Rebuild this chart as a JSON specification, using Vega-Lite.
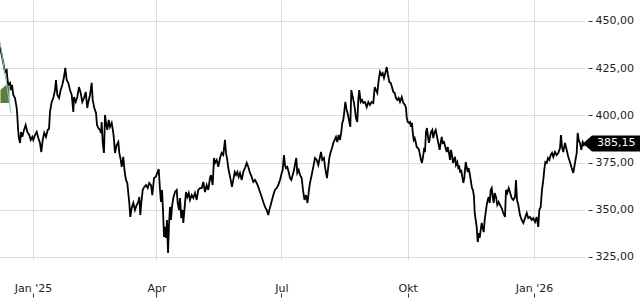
{
  "$schema": "https://vega.github.io/schema/vega-lite/v6.json",
  "width": 585,
  "height": 260,
  "padding": {"left": 0, "top": 0, "right": 55, "bottom": 40},
  "autosize": {"type": "none"},
  "config": {
    "view": {"stroke": null},
    "axis": {"labelFont": "DejaVu Sans", "labelFontSize": 11, "labelColor": "#222222", "gridColor": "#dcdcdc", "gridWidth": 1, "tickColor": "#333333", "domain": false}
  },
  "datasets": {
    "price": [
      {"t":"2024-12-08T00:00","v":436.4},{"t":"2024-12-09T06:00","v":432.0},{"t":"2024-12-10T10:00","v":427.7},{"t":"2024-12-11T15:00","v":423.0},{"t":"2024-12-12T21:00","v":424.0},{"t":"2024-12-13T08:00","v":419.8},{"t":"2024-12-14T01:00","v":416.1},{"t":"2024-12-15T07:00","v":417.2},{"t":"2024-12-16T00:00","v":413.4},{"t":"2024-12-16T18:00","v":416.1},{"t":"2024-12-17T17:00","v":410.8},{"t":"2024-12-18T22:00","v":409.2},{"t":"2024-12-20T04:00","v":403.9},{"t":"2024-12-20T14:00","v":400.2},{"t":"2024-12-21T03:00","v":393.3},{"t":"2024-12-21T15:00","v":388.6},{"t":"2024-12-22T14:00","v":385.4},{"t":"2024-12-23T07:00","v":391.2},{"t":"2024-12-24T06:00","v":388.6},{"t":"2024-12-25T12:00","v":392.3},{"t":"2024-12-26T17:00","v":394.9},{"t":"2024-12-27T21:00","v":391.2},{"t":"2024-12-29T08:00","v":389.6},{"t":"2024-12-30T09:00","v":387.0},{"t":"2024-12-31T13:00","v":388.6},
      {"t":"2025-01-01T06:00","v":387.0},{"t":"2025-01-02T12:00","v":389.6},{"t":"2025-01-03T18:00","v":391.2},{"t":"2025-01-04T22:00","v":388.0},{"t":"2025-01-06T03:00","v":385.4},{"t":"2025-01-07T02:00","v":380.6},{"t":"2025-01-08T03:00","v":387.0},{"t":"2025-01-09T06:00","v":390.7},{"t":"2025-01-10T12:00","v":388.6},{"t":"2025-01-11T18:00","v":392.3},{"t":"2025-01-12T17:00","v":392.8},{"t":"2025-01-13T10:00","v":401.8},{"t":"2025-01-14T16:00","v":407.1},{"t":"2025-01-15T20:00","v":409.2},{"t":"2025-01-17T02:00","v":413.4},{"t":"2025-01-17T19:00","v":418.7},{"t":"2025-01-18T18:00","v":410.8},{"t":"2025-01-20T00:00","v":409.2},{"t":"2025-01-21T05:00","v":413.4},{"t":"2025-01-22T09:00","v":416.1},{"t":"2025-01-23T15:00","v":420.3},{"t":"2025-01-24T14:00","v":425.1},{"t":"2025-01-25T14:00","v":418.7},{"t":"2025-01-26T18:00","v":417.2},{"t":"2025-01-28T00:00","v":413.4},{"t":"2025-01-29T06:00","v":410.8},{"t":"2025-01-30T10:00","v":401.8},{"t":"2025-01-30T22:00","v":409.7},
      {"t":"2025-02-01T04:00","v":407.1},{"t":"2025-02-02T08:00","v":409.7},{"t":"2025-02-03T13:00","v":415.0},{"t":"2025-02-04T19:00","v":411.9},{"t":"2025-02-05T23:00","v":407.1},{"t":"2025-02-07T05:00","v":409.2},{"t":"2025-02-08T11:00","v":412.4},{"t":"2025-02-09T14:00","v":403.9},{"t":"2025-02-10T08:00","v":407.1},{"t":"2025-02-11T14:00","v":410.8},{"t":"2025-02-12T19:00","v":417.2},{"t":"2025-02-13T13:00","v":408.2},{"t":"2025-02-14T17:00","v":403.9},{"t":"2025-02-15T23:00","v":401.3},{"t":"2025-02-16T16:00","v":394.9},{"t":"2025-02-17T15:00","v":393.3},{"t":"2025-02-18T21:00","v":392.3},
      {"t":"2025-02-19T14:00","v":390.7},{"t":"2025-02-20T02:00","v":396.5},{"t":"2025-02-20T20:00","v":385.4},{"t":"2025-02-21T18:00","v":380.1},{"t":"2025-02-22T12:00","v":400.2},{"t":"2025-02-23T06:00","v":396.0},{"t":"2025-02-24T04:00","v":392.3},{"t":"2025-02-25T05:00","v":397.6},{"t":"2025-02-26T03:00","v":393.9},{"t":"2025-02-27T09:00","v":396.0},{"t":"2025-02-28T13:00","v":390.7},
      {"t":"2025-03-01T01:00","v":387.0},{"t":"2025-03-01T19:00","v":380.1},{"t":"2025-03-03T00:00","v":384.3},{"t":"2025-03-04T05:00","v":385.9},{"t":"2025-03-04T22:00","v":380.1},{"t":"2025-03-05T23:00","v":376.4},{"t":"2025-03-06T16:00","v":372.7},{"t":"2025-03-07T20:00","v":378.0},{"t":"2025-03-08T20:00","v":370.0},{"t":"2025-03-09T19:00","v":365.8},{"t":"2025-03-10T18:00","v":364.2},{"t":"2025-03-11T11:00","v":358.9},{"t":"2025-03-12T05:00","v":353.6},{"t":"2025-03-12T22:00","v":346.2},{"t":"2025-03-13T23:00","v":350.9},{"t":"2025-03-15T03:00","v":353.6},{"t":"2025-03-16T08:00","v":349.9},{"t":"2025-03-17T14:00","v":352.5},{"t":"2025-03-18T18:00","v":354.1},{"t":"2025-03-19T12:00","v":356.8},{"t":"2025-03-20T05:00","v":347.2},{"t":"2025-03-20T23:00","v":353.6},{"t":"2025-03-21T23:00","v":360.5},{"t":"2025-03-23T03:00","v":362.1},{"t":"2025-03-24T09:00","v":363.1},{"t":"2025-03-25T15:00","v":361.5},{"t":"2025-03-26T18:00","v":364.2},{"t":"2025-03-28T00:00","v":363.1},{"t":"2025-03-28T23:00","v":357.8},{"t":"2025-03-30T05:00","v":366.8},{"t":"2025-03-31T10:00","v":367.4},
      {"t":"2025-04-01T14:00","v":369.5},{"t":"2025-04-02T15:00","v":371.6},{"t":"2025-04-03T14:00","v":360.5},{"t":"2025-04-04T07:00","v":354.1},{"t":"2025-04-05T01:00","v":360.5},{"t":"2025-04-05T18:00","v":349.9},{"t":"2025-04-06T12:00","v":335.6},{"t":"2025-04-07T05:00","v":340.9},{"t":"2025-04-07T23:00","v":335.1},{"t":"2025-04-08T16:00","v":344.6},{"t":"2025-04-09T10:00","v":327.1},{"t":"2025-04-10T03:00","v":341.9},{"t":"2025-04-10T20:00","v":351.5},{"t":"2025-04-11T14:00","v":344.6},{"t":"2025-04-12T07:00","v":351.5},{"t":"2025-04-13T06:00","v":356.2},{"t":"2025-04-14T12:00","v":359.4},{"t":"2025-04-15T18:00","v":360.5},{"t":"2025-04-16T11:00","v":353.6},{"t":"2025-04-17T10:00","v":349.9},{"t":"2025-04-18T03:00","v":356.2},{"t":"2025-04-19T02:00","v":345.6},{"t":"2025-04-20T03:00","v":349.9},{"t":"2025-04-20T13:00","v":343.0},{"t":"2025-04-21T13:00","v":351.5},{"t":"2025-04-22T12:00","v":359.4},{"t":"2025-04-23T11:00","v":356.8},{"t":"2025-04-24T12:00","v":358.9},{"t":"2025-04-25T10:00","v":355.2},{"t":"2025-04-26T16:00","v":357.8},{"t":"2025-04-27T20:00","v":356.2},{"t":"2025-04-29T02:00","v":358.9},{"t":"2025-04-30T07:00","v":355.2},
      {"t":"2025-05-01T11:00","v":360.5},{"t":"2025-05-02T17:00","v":361.5},{"t":"2025-05-03T23:00","v":361.5},{"t":"2025-05-05T03:00","v":364.7},{"t":"2025-05-06T08:00","v":359.4},{"t":"2025-05-07T14:00","v":363.1},{"t":"2025-05-08T18:00","v":360.5},{"t":"2025-05-10T00:00","v":366.8},{"t":"2025-05-10T17:00","v":368.4},{"t":"2025-05-11T23:00","v":363.1},{"t":"2025-05-12T22:00","v":377.4},{"t":"2025-05-13T15:00","v":374.8},{"t":"2025-05-14T21:00","v":376.4},{"t":"2025-05-16T01:00","v":372.7},{"t":"2025-05-17T07:00","v":377.4},{"t":"2025-05-18T12:00","v":380.1},{"t":"2025-05-19T16:00","v":379.0},{"t":"2025-05-20T22:00","v":387.0},{"t":"2025-05-21T16:00","v":380.1},{"t":"2025-05-22T14:00","v":376.4},{"t":"2025-05-23T08:00","v":372.1},{"t":"2025-05-24T01:00","v":369.5},{"t":"2025-05-25T02:00","v":365.8},{"t":"2025-05-26T00:00","v":362.1},{"t":"2025-05-26T23:00","v":365.8},{"t":"2025-05-28T00:00","v":370.0},{"t":"2025-05-28T23:00","v":368.4},{"t":"2025-05-29T21:00","v":370.0},{"t":"2025-05-30T22:00","v":367.4},{"t":"2025-05-31T20:00","v":369.5},
      {"t":"2025-06-02T02:00","v":365.8},{"t":"2025-06-03T06:00","v":370.0},{"t":"2025-06-04T12:00","v":372.1},{"t":"2025-06-05T18:00","v":374.8},{"t":"2025-06-06T22:00","v":372.7},{"t":"2025-06-08T03:00","v":369.5},{"t":"2025-06-09T09:00","v":367.4},{"t":"2025-06-10T13:00","v":364.7},{"t":"2025-06-11T19:00","v":365.8},{"t":"2025-06-13T00:00","v":364.2},{"t":"2025-06-14T04:00","v":362.1},{"t":"2025-06-15T10:00","v":359.4},{"t":"2025-06-16T16:00","v":356.8},{"t":"2025-06-17T20:00","v":354.1},{"t":"2025-06-19T02:00","v":351.5},{"t":"2025-06-20T07:00","v":349.9},{"t":"2025-06-21T11:00","v":347.2},{"t":"2025-06-22T05:00","v":349.9},{"t":"2025-06-23T05:00","v":352.5},{"t":"2025-06-24T04:00","v":355.2},{"t":"2025-06-25T03:00","v":357.8},{"t":"2025-06-26T08:00","v":360.5},{"t":"2025-06-27T14:00","v":361.5},{"t":"2025-06-28T18:00","v":363.1},{"t":"2025-06-30T00:00","v":365.8},
      {"t":"2025-07-01T06:00","v":369.5},{"t":"2025-07-01T23:00","v":371.1},{"t":"2025-07-02T22:00","v":379.0},{"t":"2025-07-03T15:00","v":373.7},{"t":"2025-07-04T09:00","v":372.1},{"t":"2025-07-05T07:00","v":372.7},{"t":"2025-07-06T08:00","v":370.0},{"t":"2025-07-07T07:00","v":366.8},{"t":"2025-07-08T06:00","v":365.8},{"t":"2025-07-09T06:00","v":368.4},{"t":"2025-07-10T05:00","v":371.1},{"t":"2025-07-11T03:00","v":374.8},{"t":"2025-07-11T21:00","v":377.4},{"t":"2025-07-12T14:00","v":369.5},{"t":"2025-07-13T15:00","v":371.1},{"t":"2025-07-14T14:00","v":368.4},{"t":"2025-07-15T19:00","v":366.8},{"t":"2025-07-16T18:00","v":360.5},{"t":"2025-07-17T20:00","v":355.2},{"t":"2025-07-18T23:00","v":357.8},{"t":"2025-07-20T01:00","v":353.6},{"t":"2025-07-21T03:00","v":360.5},{"t":"2025-07-21T20:00","v":364.2},{"t":"2025-07-23T02:00","v":368.4},{"t":"2025-07-24T06:00","v":372.7},{"t":"2025-07-25T12:00","v":377.4},{"t":"2025-07-26T18:00","v":376.4},{"t":"2025-07-27T22:00","v":373.7},{"t":"2025-07-29T03:00","v":378.0},{"t":"2025-07-29T21:00","v":380.6},{"t":"2025-07-30T19:00","v":376.4},
      {"t":"2025-08-01T01:00","v":377.4},{"t":"2025-08-01T19:00","v":372.7},{"t":"2025-08-02T12:00","v":369.5},{"t":"2025-08-03T06:00","v":366.8},{"t":"2025-08-04T04:00","v":372.7},{"t":"2025-08-04T22:00","v":377.4},{"t":"2025-08-05T22:00","v":380.6},{"t":"2025-08-06T21:00","v":382.7},{"t":"2025-08-07T20:00","v":385.4},{"t":"2025-08-08T20:00","v":387.0},{"t":"2025-08-09T19:00","v":388.6},{"t":"2025-08-10T18:00","v":385.9},{"t":"2025-08-11T18:00","v":389.6},{"t":"2025-08-12T17:00","v":387.0},{"t":"2025-08-13T16:00","v":391.2},{"t":"2025-08-14T09:00","v":396.0},{"t":"2025-08-15T03:00","v":397.6},{"t":"2025-08-15T20:00","v":401.8},{"t":"2025-08-16T14:00","v":407.1},{"t":"2025-08-17T14:00","v":402.9},{"t":"2025-08-18T13:00","v":400.2},{"t":"2025-08-19T12:00","v":396.5},{"t":"2025-08-20T05:00","v":393.9},{"t":"2025-08-20T23:00","v":413.4},{"t":"2025-08-21T23:00","v":409.7},{"t":"2025-08-22T22:00","v":406.6},{"t":"2025-08-23T15:00","v":402.9},{"t":"2025-08-24T09:00","v":398.6},{"t":"2025-08-25T07:00","v":396.5},{"t":"2025-08-26T01:00","v":408.2},{"t":"2025-08-26T18:00","v":413.4},{"t":"2025-08-27T19:00","v":407.1},{"t":"2025-08-28T18:00","v":408.2},{"t":"2025-08-29T16:00","v":406.6},{"t":"2025-08-30T22:00","v":407.1},
      {"t":"2025-09-01T04:00","v":404.4},{"t":"2025-09-02T08:00","v":407.1},{"t":"2025-09-03T13:00","v":405.5},{"t":"2025-09-04T19:00","v":407.1},{"t":"2025-09-05T23:00","v":406.6},{"t":"2025-09-07T00:00","v":415.0},{"t":"2025-09-07T22:00","v":413.4},{"t":"2025-09-08T21:00","v":411.9},{"t":"2025-09-09T22:00","v":418.7},{"t":"2025-09-10T20:00","v":423.0},{"t":"2025-09-11T19:00","v":421.4},{"t":"2025-09-12T19:00","v":422.4},{"t":"2025-09-13T18:00","v":419.8},{"t":"2025-09-14T17:00","v":422.4},{"t":"2025-09-15T18:00","v":425.6},{"t":"2025-09-16T16:00","v":421.4},{"t":"2025-09-17T15:00","v":417.7},{"t":"2025-09-18T15:00","v":417.2},{"t":"2025-09-19T14:00","v":415.0},{"t":"2025-09-20T13:00","v":412.4},{"t":"2025-09-21T13:00","v":411.9},{"t":"2025-09-22T12:00","v":409.2},{"t":"2025-09-23T11:00","v":408.2},{"t":"2025-09-24T11:00","v":409.2},{"t":"2025-09-25T10:00","v":407.1},{"t":"2025-09-26T16:00","v":409.7},{"t":"2025-09-27T20:00","v":406.6},{"t":"2025-09-29T01:00","v":405.5},{"t":"2025-09-29T19:00","v":403.9},{"t":"2025-09-30T07:00","v":399.1},
      {"t":"2025-10-01T01:00","v":396.5},{"t":"2025-10-01T23:00","v":396.0},{"t":"2025-10-02T17:00","v":396.5},{"t":"2025-10-03T10:00","v":393.9},{"t":"2025-10-04T04:00","v":396.0},{"t":"2025-10-04T16:00","v":391.2},{"t":"2025-10-05T10:00","v":387.0},{"t":"2025-10-06T03:00","v":388.0},{"t":"2025-10-06T21:00","v":385.9},{"t":"2025-10-07T14:00","v":383.3},{"t":"2025-10-08T13:00","v":382.7},{"t":"2025-10-09T06:00","v":381.7},{"t":"2025-10-10T00:00","v":379.0},{"t":"2025-10-10T17:00","v":376.4},{"t":"2025-10-11T11:00","v":374.8},{"t":"2025-10-12T04:00","v":378.0},{"t":"2025-10-12T22:00","v":381.7},{"t":"2025-10-13T15:00","v":380.6},{"t":"2025-10-14T09:00","v":391.2},{"t":"2025-10-15T02:00","v":393.3},{"t":"2025-10-15T20:00","v":388.6},{"t":"2025-10-16T13:00","v":385.4},{"t":"2025-10-17T07:00","v":388.6},{"t":"2025-10-18T00:00","v":391.2},{"t":"2025-10-18T23:00","v":392.3},{"t":"2025-10-19T16:00","v":388.0},{"t":"2025-10-20T10:00","v":390.7},{"t":"2025-10-21T10:00","v":392.3},{"t":"2025-10-22T04:00","v":389.6},{"t":"2025-10-22T21:00","v":387.0},{"t":"2025-10-23T15:00","v":384.3},{"t":"2025-10-24T08:00","v":381.7},{"t":"2025-10-25T02:00","v":385.4},{"t":"2025-10-25T19:00","v":388.6},{"t":"2025-10-26T13:00","v":385.4},{"t":"2025-10-27T12:00","v":385.9},{"t":"2025-10-28T10:00","v":383.3},{"t":"2025-10-29T11:00","v":380.6},{"t":"2025-10-30T04:00","v":383.3},{"t":"2025-10-31T03:00","v":380.1},{"t":"2025-10-31T20:00","v":376.4},
      {"t":"2025-11-01T14:00","v":381.7},{"t":"2025-11-02T07:00","v":379.0},{"t":"2025-11-03T01:00","v":374.8},{"t":"2025-11-03T18:00","v":376.4},{"t":"2025-11-04T12:00","v":378.0},{"t":"2025-11-05T05:00","v":373.7},{"t":"2025-11-06T04:00","v":375.3},{"t":"2025-11-06T22:00","v":372.1},{"t":"2025-11-07T15:00","v":372.7},{"t":"2025-11-08T08:00","v":369.5},{"t":"2025-11-09T02:00","v":371.1},{"t":"2025-11-09T19:00","v":367.4},{"t":"2025-11-10T13:00","v":364.2},{"t":"2025-11-11T06:00","v":366.8},{"t":"2025-11-12T07:00","v":375.3},{"t":"2025-11-13T00:00","v":372.7},{"t":"2025-11-13T18:00","v":370.0},{"t":"2025-11-14T11:00","v":372.1},{"t":"2025-11-15T10:00","v":368.4},{"t":"2025-11-16T04:00","v":364.7},{"t":"2025-11-16T21:00","v":361.5},{"t":"2025-11-17T14:00","v":360.5},{"t":"2025-11-18T08:00","v":356.8},{"t":"2025-11-18T20:00","v":348.3},{"t":"2025-11-19T14:00","v":344.6},{"t":"2025-11-20T07:00","v":340.9},{"t":"2025-11-21T01:00","v":332.9},{"t":"2025-11-21T18:00","v":337.7},{"t":"2025-11-22T12:00","v":335.1},{"t":"2025-11-23T05:00","v":339.3},{"t":"2025-11-23T23:00","v":343.0},{"t":"2025-11-24T16:00","v":340.4},{"t":"2025-11-25T10:00","v":338.2},{"t":"2025-11-26T03:00","v":344.6},{"t":"2025-11-26T21:00","v":348.8},{"t":"2025-11-27T14:00","v":352.5},{"t":"2025-11-28T08:00","v":355.2},{"t":"2025-11-29T01:00","v":356.8},{"t":"2025-11-29T19:00","v":353.6},{"t":"2025-11-30T12:00","v":360.5},
      {"t":"2025-12-01T06:00","v":361.5},{"t":"2025-12-01T23:00","v":356.8},{"t":"2025-12-02T17:00","v":353.6},{"t":"2025-12-03T10:00","v":358.9},{"t":"2025-12-04T09:00","v":356.8},{"t":"2025-12-05T07:00","v":352.5},{"t":"2025-12-06T08:00","v":354.1},{"t":"2025-12-07T07:00","v":352.5},{"t":"2025-12-08T12:00","v":350.9},{"t":"2025-12-09T16:00","v":348.3},{"t":"2025-12-10T22:00","v":346.2},{"t":"2025-12-11T16:00","v":360.5},{"t":"2025-12-12T14:00","v":358.9},{"t":"2025-12-13T15:00","v":361.5},{"t":"2025-12-14T13:00","v":359.4},{"t":"2025-12-15T19:00","v":356.2},{"t":"2025-12-16T23:00","v":355.2},{"t":"2025-12-18T05:00","v":356.8},{"t":"2025-12-18T22:00","v":365.8},{"t":"2025-12-19T16:00","v":355.2},{"t":"2025-12-20T15:00","v":352.5},{"t":"2025-12-21T20:00","v":347.2},{"t":"2025-12-23T02:00","v":344.6},{"t":"2025-12-24T06:00","v":343.0},{"t":"2025-12-25T12:00","v":345.6},{"t":"2025-12-26T18:00","v":348.3},{"t":"2025-12-27T21:00","v":345.6},{"t":"2025-12-29T03:00","v":346.2},{"t":"2025-12-30T09:00","v":344.6},{"t":"2025-12-31T13:00","v":345.6},
      {"t":"2026-01-01T19:00","v":343.5},{"t":"2026-01-03T00:00","v":346.2},{"t":"2026-01-04T04:00","v":340.9},{"t":"2026-01-04T22:00","v":349.9},{"t":"2026-01-05T22:00","v":351.5},{"t":"2026-01-06T21:00","v":360.5},{"t":"2026-01-07T20:00","v":365.8},{"t":"2026-01-08T13:00","v":371.1},{"t":"2026-01-09T07:00","v":375.3},{"t":"2026-01-10T07:00","v":374.8},{"t":"2026-01-11T06:00","v":377.4},{"t":"2026-01-12T05:00","v":376.4},{"t":"2026-01-13T05:00","v":379.0},{"t":"2026-01-14T04:00","v":380.1},{"t":"2026-01-15T03:00","v":378.0},{"t":"2026-01-16T08:00","v":380.6},{"t":"2026-01-17T14:00","v":379.0},{"t":"2026-01-18T18:00","v":380.1},{"t":"2026-01-20T00:00","v":382.7},{"t":"2026-01-20T17:00","v":389.6},{"t":"2026-01-21T11:00","v":383.3},{"t":"2026-01-22T09:00","v":380.6},{"t":"2026-01-23T15:00","v":385.4},{"t":"2026-01-24T21:00","v":381.7},{"t":"2026-01-26T01:00","v":378.0},{"t":"2026-01-27T06:00","v":375.3},{"t":"2026-01-28T12:00","v":372.1},{"t":"2026-01-29T16:00","v":369.5},{"t":"2026-01-30T22:00","v":374.8},
      {"t":"2026-02-01T04:00","v":380.1},{"t":"2026-02-01T21:00","v":390.7},{"t":"2026-02-02T15:00","v":387.0},{"t":"2026-02-03T13:00","v":385.4},{"t":"2026-02-04T12:00","v":381.7},{"t":"2026-02-05T13:00","v":385.9},{"t":"2026-02-06T12:00","v":384.3},{"t":"2026-02-07T05:00","v":385.15}
    ],
    "last": [{"t":"2026-02-07T05:00","v":385.15,"label":"385,15"}],
    "marker": [{"t":"2024-12-11T15:00","v":411.3}],
    "trend": [{"t":"2024-12-08T00:00","v":439.0},{"t":"2024-12-16T00:00","v":401.3}]
  },
  "encoding": {
    "x": {
      "field": "t", "type": "temporal",
      "scale": {"domain": [{"year": 2024, "month": 12, "date": 8}, {"year": 2026, "month": 2, "date": 7, "hours": 5}]},
      "axis": {
        "title": null, "orient": "bottom", "offset": 33, "tickSize": 4, "labelPadding": -6, "labelBaseline": "alphabetic",
        "grid": true, "labelAngle": 0,
        "values": [{"year": 2025, "month": 1, "date": 1}, {"year": 2025, "month": 4, "date": 1}, {"year": 2025, "month": 7, "date": 1}, {"year": 2025, "month": 10, "date": 1}, {"year": 2026, "month": 1, "date": 1}],
        "labelExpr": "month(datum.value)==0 ? \"Jan '\" + timeFormat(datum.value,'%y') : month(datum.value)==3 ? 'Apr' : month(datum.value)==6 ? 'Jul' : 'Okt'"
      }
    },
    "y": {
      "field": "v", "type": "quantitative",
      "scale": {"domain": [323.4, 461.1], "zero": false, "nice": false},
      "axis": {
        "title": null, "orient": "right", "offset": 3, "tickSize": 4, "labelPadding": 3, "grid": true,
        "values": [325, 350, 375, 400, 425, 450],
        "labelExpr": "replace(format(datum.value,'.2f'),'.',',')"
      }
    }
  },
  "layer": [
    {
      "data": {"name": "marker"},
      "mark": {"type": "point", "filled": true, "opacity": 1, "color": "#5e7d3a", "size": 400, "shape": "M-0.45,-0.4 L0.1,-0.9 L0.45,-0.67 L0.45,0.9 L-0.45,0.9 Z"}
    },
    {
      "data": {"name": "price"},
      "mark": {"type": "line", "color": "#000000", "strokeWidth": 1.8, "strokeJoin": "miter"}
    },
    {
      "data": {"name": "trend"},
      "mark": {"type": "line", "color": "#8cc2ca", "strokeWidth": 1}
    },
    {
      "data": {"name": "last"},
      "mark": {"type": "point", "filled": true, "opacity": 1, "color": "#000000", "size": 400, "shape": "M-0.2,0 L0.7,-0.8 L5.5,-0.8 L5.5,0.8 L0.7,0.8 Z"}
    },
    {
      "data": {"name": "last"},
      "mark": {"type": "text", "align": "left", "baseline": "middle", "dx": 12, "color": "#ffffff", "font": "DejaVu Sans", "fontSize": 11},
      "encoding": {"text": {"field": "label"}}
    }
  ]
}
